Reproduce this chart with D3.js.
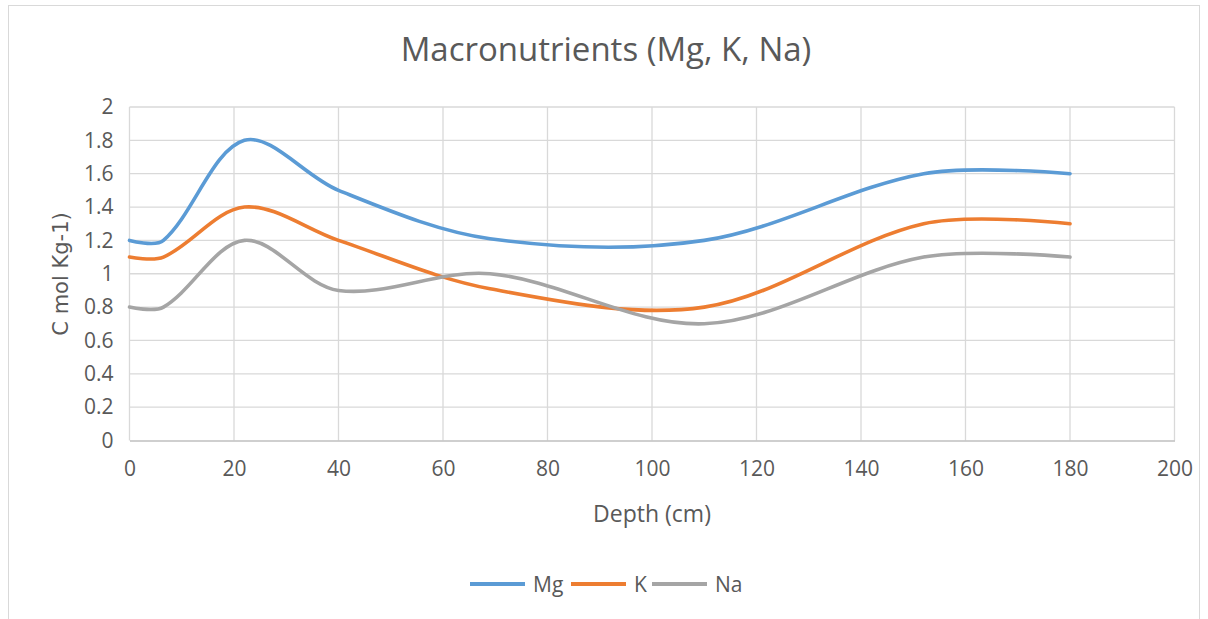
<!DOCTYPE html>
<html>
<head>
<meta charset="utf-8">
<script src="https://cdn.jsdelivr.net/npm/d3@7"></script>
<style>
  body { margin: 0; background: #fff; }
  svg { display: block; font-family: "Open Sans", sans-serif; }
</style>
</head>
<body>
<svg id="chart"></svg>
<script>
const depth = [0, 6.5, 22, 40, 69, 110, 152, 180];
const mg = [1.2, 1.2, 1.8, 1.5, 1.21, 1.2, 1.6, 1.6];
const k = [1.1, 1.1, 1.4, 1.2, 0.91, 0.8, 1.3, 1.3];
const na = [0.8, 0.8, 1.2, 0.9, 1.0, 0.7, 1.1, 1.1];
const seriesNames = ["Mg", "K", "Na"];
const xTicks = [0, 20, 40, 60, 80, 100, 120, 140, 160, 180, 200];
const yTicks = [0, 0.2, 0.4, 0.6, 0.8, 1, 1.2, 1.4, 1.6, 1.8, 2];

const width = 1208;
const height = 619;
const colors = ["#5B9BD5", "#ED7D31", "#A5A5A5"];
const textColor = "#595959";

// smoothing similar to a spreadsheet "smoothed line": bezier control points
// along the neighbour direction, scaled by the length of each side
function smoothCurve(context) {
  let pts = [];
  const s = 1 / 3;
  function ctrl(i, dir) {
    const n = pts.length;
    if (i === 0 || i === n - 1) return pts[i];
    const tx = pts[i + 1][0] - pts[i - 1][0];
    const ty = pts[i + 1][1] - pts[i - 1][1];
    const d1 = Math.hypot(pts[i][0] - pts[i - 1][0], pts[i][1] - pts[i - 1][1]);
    const d2 = Math.hypot(pts[i + 1][0] - pts[i][0], pts[i + 1][1] - pts[i][1]);
    const f = s * (dir > 0 ? d2 : d1) / (d1 + d2);
    return [pts[i][0] + dir * tx * f, pts[i][1] + dir * ty * f];
  }
  return {
    areaStart() {},
    areaEnd() {},
    lineStart() { pts = []; },
    point(x, y) { pts.push([+x, +y]); },
    lineEnd() {
      if (!pts.length) return;
      context.moveTo(pts[0][0], pts[0][1]);
      for (let i = 0; i < pts.length - 1; i++) {
        const c1 = ctrl(i, 1);
        const c2 = ctrl(i + 1, -1);
        context.bezierCurveTo(c1[0], c1[1], c2[0], c2[1], pts[i + 1][0], pts[i + 1][1]);
      }
    }
  };
}

const svg = d3.select("#chart").attr("width", width).attr("height", height);

// chart frame
svg.append("rect")
  .attr("x", 8.5).attr("y", 5.5)
  .attr("width", 1191).attr("height", 630)
  .attr("fill", "none")
  .attr("stroke", "#D9D9D9");

const xScale = d3.scaleLinear().domain([0, 200]).range([129.5, 1174.5]);
const yScale = d3.scaleLinear().domain([0, 2]).range([440.5, 107]);

// gridlines
svg.append("g")
  .selectAll("line")
  .data(yTicks.filter((d) => d > 0))
  .enter()
  .append("line")
  .attr("x1", xScale(0)).attr("x2", xScale(200))
  .attr("y1", (d) => yScale(d)).attr("y2", (d) => yScale(d))
  .attr("stroke", "#D9D9D9").attr("stroke-width", 1.3);

svg.append("g")
  .selectAll("line")
  .data(xTicks)
  .enter()
  .append("line")
  .attr("x1", (d) => xScale(d)).attr("x2", (d) => xScale(d))
  .attr("y1", yScale(0)).attr("y2", yScale(2))
  .attr("stroke", "#D9D9D9").attr("stroke-width", 1.3);

// x axis
const xAxis = d3.axisBottom(xScale).tickValues(xTicks).tickSize(0).tickPadding(21);
const gx = svg.append("g")
  .attr("transform", "translate(0," + yScale(0) + ")")
  .call(xAxis);
gx.select(".domain").attr("stroke", "#BFBFBF").attr("stroke-width", 1.5);
gx.selectAll("text")
  .attr("font-family", "Open Sans")
  .attr("font-size", 21)
  .attr("fill", textColor);

// y axis
const yAxis = d3.axisLeft(yScale).tickValues(yTicks).tickSize(0).tickPadding(16)
  .tickFormat((d) => String(d));
const gy = svg.append("g")
  .attr("transform", "translate(" + xScale(0) + ",0)")
  .call(yAxis);
gy.select(".domain").remove();
gy.selectAll("text")
  .attr("font-family", "Open Sans")
  .attr("font-size", 21)
  .attr("fill", textColor);

// lines
const line = d3.line()
  .x((d) => xScale(d[0]))
  .y((d) => yScale(d[1]))
  .curve(smoothCurve);

[mg, k, na].forEach((values, i) => {
  svg.append("path")
    .datum(depth.map((x, j) => [x, values[j]]))
    .attr("fill", "none")
    .attr("stroke", colors[i])
    .attr("stroke-width", 3.6)
    .attr("stroke-linecap", "round")
    .attr("stroke-linejoin", "round")
    .attr("d", line);
});

// title
svg.append("text")
  .attr("x", 606).attr("y", 61)
  .attr("text-anchor", "middle")
  .attr("font-size", 33)
  .attr("fill", textColor)
  .text("Macronutrients (Mg, K, Na)");

// axis titles
svg.append("text")
  .attr("x", 652).attr("y", 522)
  .attr("text-anchor", "middle")
  .attr("font-size", 23)
  .attr("fill", textColor)
  .text("Depth (cm)");

svg.append("text")
  .attr("transform", "translate(68,274) rotate(-90)")
  .attr("text-anchor", "middle")
  .attr("font-family", "DejaVu Sans")
  .attr("font-size", 21)
  .attr("fill", textColor)
  .text("C mol Kg-1)");

// legend
const legendX = [470, 571, 652];
const legend = svg.append("g");
seriesNames.forEach((name, i) => {
  legend.append("line")
    .attr("x1", legendX[i]).attr("x2", legendX[i] + 55)
    .attr("y1", 584).attr("y2", 584)
    .attr("stroke", colors[i]).attr("stroke-width", 4);
  legend.append("text")
    .attr("x", legendX[i] + 63).attr("y", 591.5)
    .attr("font-size", 21)
    .attr("fill", textColor)
    .text(name);
});
</script>
</body>
</html>
